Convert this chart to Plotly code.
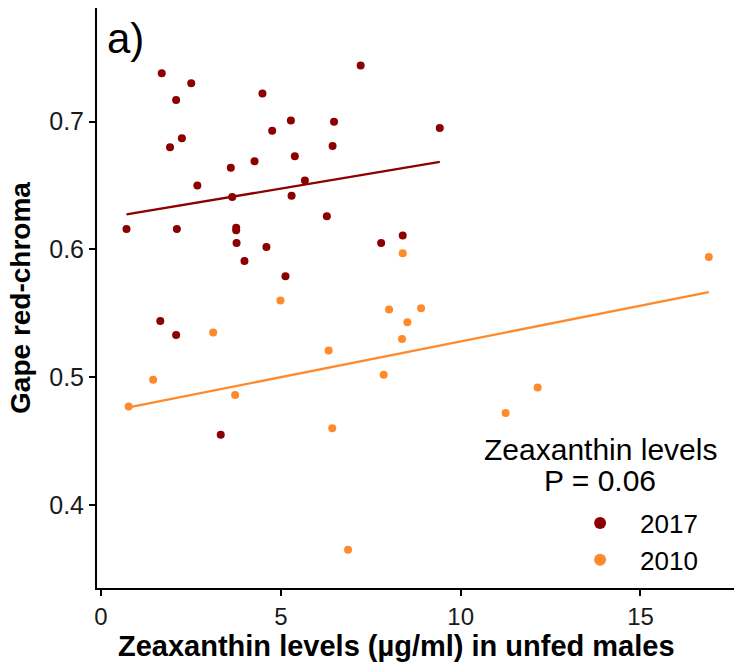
import plotly.graph_objects as go

# Zeaxanthin (µg/ml) and gape red-chroma for unfed males, by year
zea_2017 = [1.69, 2.51, 2.09, 4.49, 7.22, 1.92, 2.25, 4.76, 5.28, 6.48, 9.42,
            6.44, 5.39, 3.61, 4.27, 2.68, 5.67, 3.65, 5.30, 6.28, 0.71, 2.11,
            3.76, 3.76, 3.77, 4.60, 3.99, 7.79, 8.39, 5.13, 1.65, 2.09, 3.33]
chroma_2017 = [0.738, 0.730, 0.717, 0.722, 0.744, 0.680, 0.687, 0.693, 0.701,
               0.700, 0.695, 0.681, 0.673, 0.664, 0.669, 0.650, 0.654, 0.641,
               0.642, 0.626, 0.616, 0.616, 0.617, 0.615, 0.605, 0.602, 0.591,
               0.605, 0.611, 0.579, 0.544, 0.533, 0.455]

zea_2010 = [8.39, 4.99, 8.01, 8.90, 8.52, 3.12, 1.45, 0.77, 3.73, 6.33, 8.37,
            7.86, 6.43, 6.87, 16.90, 12.14, 11.25]
chroma_2010 = [0.597, 0.560, 0.553, 0.554, 0.543, 0.535, 0.498, 0.477, 0.486,
               0.521, 0.530, 0.502, 0.460, 0.365, 0.594, 0.492, 0.472]

# Fitted linear trends (intercept, slope) per year
years = ["2017", "2010"]
trend_intercept = [0.6241, 0.4720]
trend_slope = [0.00471, 0.00560]

colors = ["#8B0000", "#FF8A2B"]
zea = [zea_2017, zea_2010]
chroma = [chroma_2017, chroma_2010]

x_ticks = [0, 5, 10, 15]
y_ticks = [0.4, 0.5, 0.6, 0.7]

FONT = "Liberation Sans, Arial, sans-serif"

fig = go.Figure()

for name, xs, ys, col, b0, b1 in zip(years, zea, chroma, colors,
                                      trend_intercept, trend_slope):
    xl = [min(xs), max(xs)]
    fig.add_trace(go.Scatter(
        x=xl, y=[b0 + b1 * v for v in xl], mode="lines",
        line=dict(color=col, width=2.3), showlegend=False, hoverinfo="skip"))
    fig.add_trace(go.Scatter(
        x=xs, y=ys, mode="markers", name=name,
        marker=dict(color=col, size=8), showlegend=False))
    # legend key with a larger symbol
    fig.add_trace(go.Scatter(
        x=[None], y=[None], mode="markers", name=name,
        marker=dict(color=col, size=12), showlegend=True))

fig.update_layout(
    width=734, height=663,
    margin=dict(l=97, r=0, t=8, b=75),
    paper_bgcolor="white", plot_bgcolor="white",
    font=dict(family=FONT, color="black"),
    showlegend=True,
    legend=dict(
        x=0.727, y=0.080, xanchor="left", yanchor="middle",
        font=dict(size=26, color="black", family=FONT),
        itemwidth=70, tracegroupgap=0,
        bgcolor="rgba(0,0,0,0)",
    ),
    xaxis=dict(
        range=[-0.11, 17.6], tickvals=x_ticks, ticktext=[str(v) for v in x_ticks],
        showline=True, linecolor="black", linewidth=2,
        ticks="outside", ticklen=6, tickwidth=2, tickcolor="black",
        showgrid=False, zeroline=False, ticklabelstandoff=0,
        tickfont=dict(size=24, color="#1a1a1a", family=FONT),
    ),
    yaxis=dict(
        range=[0.335, 0.789], tickvals=y_ticks, ticktext=[f"{v:.1f}" for v in y_ticks],
        showline=True, linecolor="black", linewidth=2,
        ticks="outside", ticklen=6, tickwidth=2, tickcolor="black",
        showgrid=False, zeroline=False,
        tickfont=dict(size=25, color="#1a1a1a", family=FONT),
        title=dict(text="<b>Gape red-chroma</b>",
                   font=dict(size=28, color="black", family=FONT), standoff=10),
    ),
    annotations=[
        dict(text="<b>Zeaxanthin levels (µg/ml) in unfed males</b>",
             x=0.470, y=-0.1, xref="paper", yref="paper",
             xanchor="center", yanchor="middle", showarrow=False,
             font=dict(size=29, color="black", family=FONT)),
        dict(text="a)", x=0.0126, y=0.9466, xref="paper", yref="paper",
             xanchor="left", yanchor="middle", showarrow=False,
             font=dict(size=42, color="black", family=FONT)),
        dict(text="Zeaxanthin levels", x=0.79, y=0.238, xref="paper", yref="paper",
             xanchor="center", yanchor="middle", showarrow=False,
             font=dict(size=30, color="black", family=FONT)),
        dict(text="P = 0.06", x=0.79, y=0.186, xref="paper", yref="paper",
             xanchor="center", yanchor="middle", showarrow=False,
             font=dict(size=30, color="black", family=FONT)),
    ],
)

fig.write_html("out.html")
